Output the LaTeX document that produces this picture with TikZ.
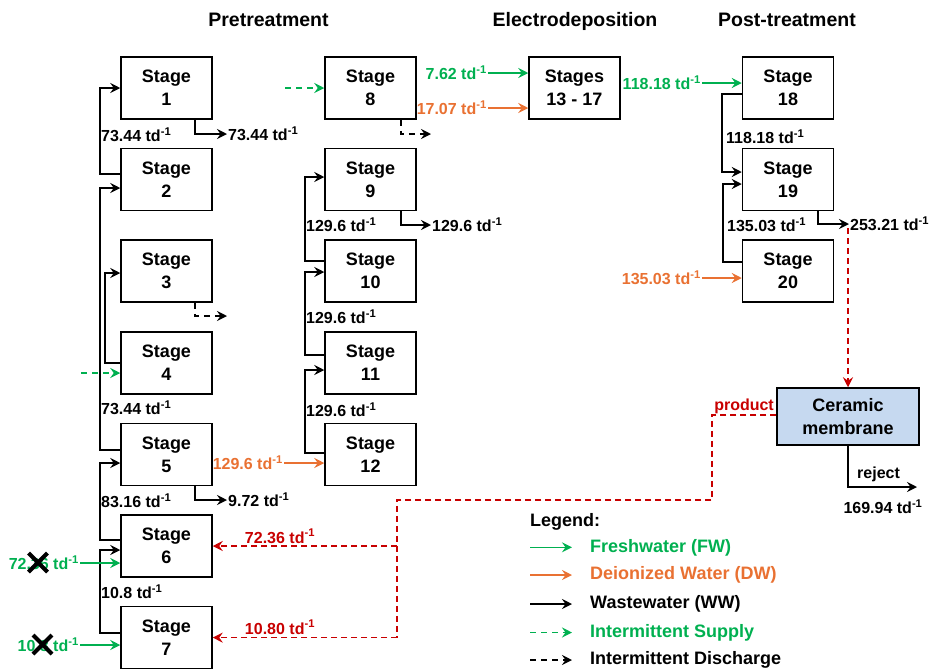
\documentclass[tikz,border=0pt]{standalone}
\usepackage{fontspec}
\setmainfont{Liberation Sans}
\usetikzlibrary{arrows.meta}
\definecolor{fwgreen}{RGB}{0,176,80}
\definecolor{dworange}{RGB}{233,113,50}
\definecolor{recred}{RGB}{200,0,0}
\definecolor{membfill}{RGB}{198,217,240}
\newcommand{\tdunit}{td\textsuperscript{-1}}
\begin{document}
\begin{tikzpicture}[x=1pt,y=-1pt,
  stagebox/.style={draw, line width=1.5pt, minimum width=91pt, minimum height=62pt,
    align=center, inner sep=0pt, font=\fontsize{18}{23}\selectfont\bfseries},
  header/.style={font=\fontsize{19.5}{22}\selectfont\bfseries, anchor=base},
  lbl/.style={font=\fontsize{16}{18}\selectfont\bfseries, inner xsep=1pt, inner ysep=0pt},
  legtext/.style={font=\fontsize{18}{22}\selectfont\bfseries, anchor=base west, inner sep=0pt},
  flow/.style={line width=1.6pt, -{Stealth[length=10pt,width=10pt,inset=3.5pt]}},
  ww/.style={flow, black},
  fw/.style={flow, fwgreen},
  dw/.style={flow, dworange},
  isup/.style={flow, fwgreen, dash pattern=on 6pt off 5pt},
  idis/.style={flow, black, dash pattern=on 6pt off 5pt},
  rec/.style={flow, recred, dash pattern=on 6pt off 4pt},
  recline/.style={line width=1.6pt, recred, dash pattern=on 6pt off 4pt},
  cross/.style={line width=4.2pt, black}
]
\useasboundingbox (0,0) rectangle (930,670);

% column headers
\node[header] (h1) at (268.5,26) {Pretreatment};
\node[header] (h2) at (575,26) {Electrodeposition};
\node[header] (h3) at (787,26) {Post-treatment};

% pretreatment, first column
\node[stagebox] (s1) at (166.5,88)    {Stage\\1};
\node[stagebox] (s2) at (166.5,179.6) {Stage\\2};
\node[stagebox] (s3) at (166.5,271.2) {Stage\\3};
\node[stagebox] (s4) at (166.5,362.8) {Stage\\4};
\node[stagebox] (s5) at (166.5,454.4) {Stage\\5};
\node[stagebox] (s6) at (166.5,546)   {Stage\\6};
\node[stagebox] (s7) at (166.5,637.6) {Stage\\7};

% pretreatment, second column
\node[stagebox] (s8)  at (370.5,88)    {Stage\\8};
\node[stagebox] (s9)  at (370.5,179.6) {Stage\\9};
\node[stagebox] (s10) at (370.5,271.2) {Stage\\10};
\node[stagebox] (s11) at (370.5,362.8) {Stage\\11};
\node[stagebox] (s12) at (370.5,454.4) {Stage\\12};

% electrodeposition and post-treatment
\node[stagebox] (s13) at (574.5,88) {Stages\\13 - 17};
\node[stagebox] (s18) at (788,88)    {Stage\\18};
\node[stagebox] (s19) at (788,179.6) {Stage\\19};
\node[stagebox] (s20) at (788,271.2) {Stage\\20};

\node[stagebox, fill=membfill, minimum width=142pt, minimum height=57pt] (mem) at (848,416.5) {Ceramic\\membrane};

% ---- first column flows
\node[lbl, anchor=west] at (100,135) {73.44 \tdunit};
\draw[ww] (s2.west |- 0,174) -| (100,88) -- (s1.west);
\node[lbl, anchor=west] (o1) at (227,134) {73.44 \tdunit};
\draw[ww] (s1.south -| 195,0) |- (o1.west);

\draw[ww] (s5.west |- 0,450) -| (100,188) -- (s2.west |- 0,188);
\draw[ww] (s4.west |- 0,363) -| (105,273) -- (s3.west |- 0,273);
\coordinate (o3) at (227,316);
\draw[idis] (s3.south -| 195,0) |- (o3);
\coordinate (i4) at (81,373);
\draw[isup] (i4) -- (s4.west |- i4);
\node[lbl, anchor=west] at (100,408) {73.44 \tdunit};

\draw[ww] (s6.west |- 0,540) -| (100,463) -- (s5.west |- 0,463);
\node[lbl, anchor=west] at (100,501) {83.16 \tdunit};
\node[lbl, anchor=west] (o5) at (227,500) {9.72 \tdunit};
\draw[ww] (s5.south -| 195,0) |- (o5.west);
\node[lbl, anchor=east, text=dworange] (d5) at (284,463) {129.6 \tdunit};
\draw[dw] (d5.east) -- (s12.west |- d5.east);

\draw[ww] (s7.west |- 0,633) -| (100,550) -- (s6.west |- 0,550);
\node[lbl, anchor=west] at (100,592) {10.8 \tdunit};
\node[lbl, anchor=east, text=fwgreen] (g6) at (80,563) {72.36 \tdunit};
\draw[fw] (g6.east) -- (s6.west |- g6.east);
\node[lbl, anchor=east, text=fwgreen] (g7) at (80,645) {10.8 \tdunit};
\draw[fw] (g7.east) -- (s7.west |- g7.east);
\draw[cross] (28.5,553) -- (47.5,572) (28.5,572) -- (47.5,553);
\draw[cross] (33,635) -- (52,654) (33,654) -- (52,635);

% ---- second column flows
\coordinate (i8) at (285,88);
\draw[isup] (i8) -- (s8.west);
\coordinate (o8) at (431,134);
\draw[idis] (s8.south -| 401,0) |- (o8);
\node[lbl, anchor=east, text=fwgreen] (g13) at (488,73) {7.62 \tdunit};
\draw[fw] (g13.east) -- (s13.west |- g13.east);
\node[lbl, anchor=east, text=dworange] (d13) at (488,108) {17.07 \tdunit};
\draw[dw] (d13.east) -- (s13.west |- d13.east);

\draw[ww] (s10.west |- 0,261) -| (305,177) -- (s9.west |- 0,177);
\node[lbl, anchor=west] at (305,225) {129.6 \tdunit};
\node[lbl, anchor=west] (o9) at (431,225) {129.6 \tdunit};
\draw[ww] (s9.south -| 401,0) |- (o9.west);
\draw[ww] (s11.west |- 0,355) -| (305,272) -- (s10.west |- 0,272);
\node[lbl, anchor=west] at (305,317) {129.6 \tdunit};
\draw[ww] (s12.west |- 0,453) -| (305,370) -- (s11.west |- 0,370);
\node[lbl, anchor=west] at (305,410) {129.6 \tdunit};

% ---- post-treatment flows
\node[lbl, anchor=east, text=fwgreen] (g18) at (702,83) {118.18 \tdunit};
\draw[fw] (g18.east) -- (s18.west |- g18.east);
\draw[ww] (s18.west |- 0,94) -| (722,172) -- (s19.west |- 0,172);
\node[lbl, anchor=west] at (725,137) {118.18 \tdunit};
\draw[ww] (s20.west |- 0,262) -| (723,184) -- (s19.west |- 0,184);
\node[lbl, anchor=west] at (726,225) {135.03 \tdunit};
\node[lbl, anchor=east, text=dworange] (d20) at (702,278) {135.03 \tdunit};
\draw[dw] (d20.east) -- (s20.west |- d20.east);
\node[lbl, anchor=west] (o19) at (849,224) {253.21 \tdunit};
\draw[ww] (s19.south -| 818,0) |- (o19.west);

% ---- ceramic membrane loop
\coordinate (m0) at (848,228);
\draw[rec] (m0) -- (mem.north);
\node[lbl, anchor=base east, text=recred] (prod) at (775,410) {product};
\coordinate (rj) at (397,546);
\coordinate (rk) at (397,637.6);
\draw[recline] (mem.west |- 0,415) -| (712,500) -| (rk);
\node[lbl, anchor=base, text=recred] at (280,543) {72.36 \tdunit};
\draw[rec] (rj) -- (s6.east);
\node[lbl, anchor=base, text=recred] at (280,634) {10.80 \tdunit};
\draw[rec] (rk) -- (s7.east);

\coordinate (rejend) at (917,487);
\draw[ww] (mem.south) |- (rejend);
\node[lbl, anchor=base west] (rejl) at (856,478) {reject};
\node[lbl] (rejv) at (883,507) {169.94 \tdunit};

% ---- legend
\node[legtext] (leg) at (530,526) {Legend:};
\draw[fw]   (530,547.3) -- (572,547.3);
\node[legtext, text=fwgreen] at (590,552) {Freshwater (FW)};
\draw[dw]   (530,575) -- (572,575);
\node[legtext, text=dworange] at (590,579.5) {Deionized Water (DW)};
\draw[ww]   (530,604) -- (572,604);
\node[legtext] at (590,608.5) {Wastewater (WW)};
\draw[isup] (530,632.5) -- (572,632.5);
\node[legtext, text=fwgreen] at (590,637) {Intermittent Supply};
\draw[idis] (530,660) -- (572,660);
\node[legtext] at (590,664.5) {Intermittent Discharge};
\end{tikzpicture}
\end{document}
